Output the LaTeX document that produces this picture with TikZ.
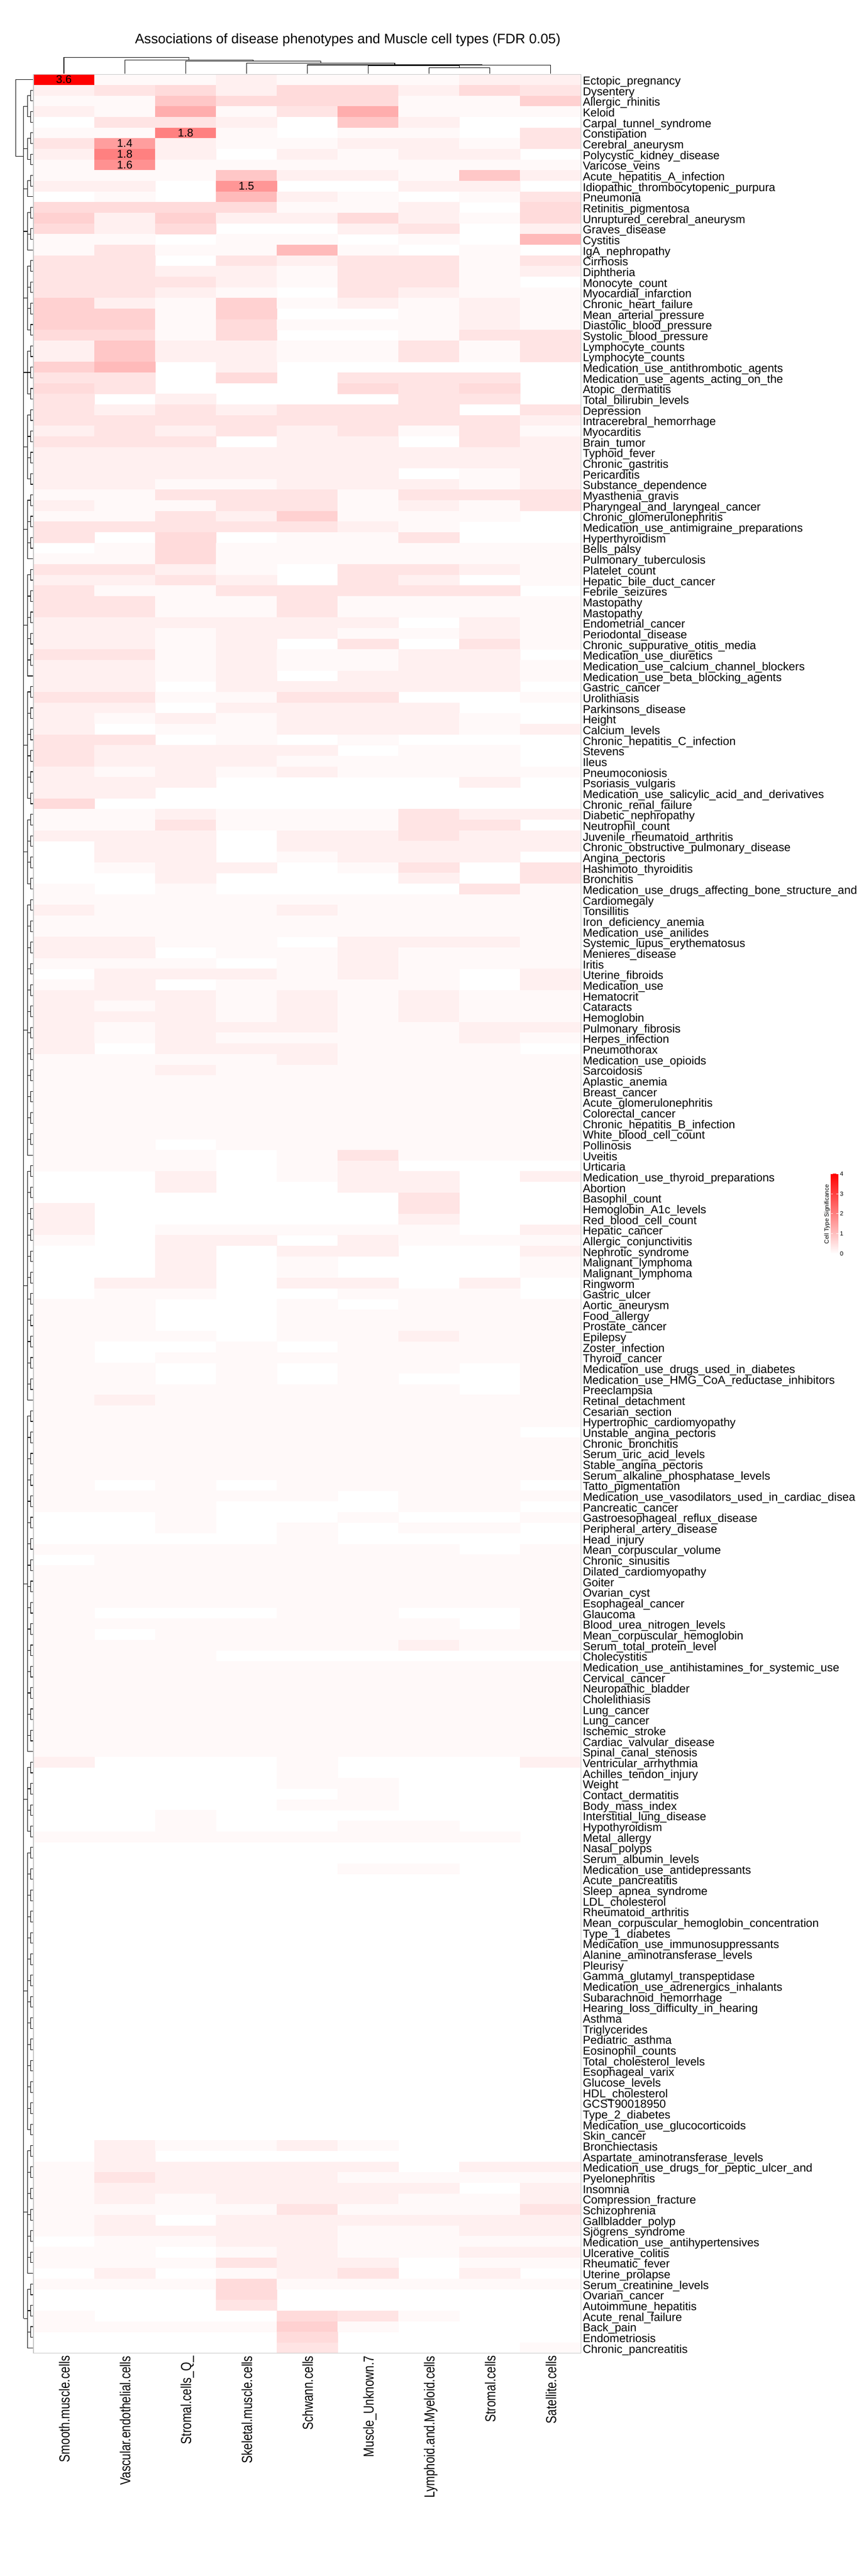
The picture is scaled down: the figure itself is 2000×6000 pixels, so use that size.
\documentclass[tikz,border=0pt]{standalone}
\usepackage{fontspec}
\setmainfont{Liberation Sans}
\usepackage{graphicx}
\newcommand{\pctof}[1]{\ifcase#1 0\or 2.5\or 6\or 10.5\or 14\or 18\or 22\or 27\or 32\or 37\or 100\or 50\or 43\or 41\or 38\fi}
\begin{document}
\begin{tikzpicture}[x=1pt,y=-1pt,
  dend/.style={black,line width=1.4pt},
  rowlab/.style={anchor=base west,inner sep=0pt,font=\fontsize{26.8}{30}\selectfont},
  collab/.style={rotate=90,anchor=base east,inner sep=0pt,font=\fontsize{27}{30}\selectfont},
  celllab/.style={inner sep=0pt,font=\fontsize{26}{28}\selectfont},
  ticklab/.style={anchor=west,inner sep=0pt,font=\fontsize{14}{16}\selectfont}]
\fill[white] (0,0) rectangle (2000,6000);
\useasboundingbox (0,0) rectangle (2000,6000);

% title
\node[anchor=base,inner sep=0pt,font=\fontsize{32}{36}\selectfont] (title) at (810,102)
  {Associations of disease phenotypes and Muscle cell types (FDR 0.05)};

% heatmap cells
\foreach \v [count=\r from 0] in {
{10,1,1,2,1,1,1,2,2},{2,3,4,2,4,4,2,4,3},{1,1,6,4,4,4,1,1,5},{2,1,8,1,3,8,1,1,1},
{0,3,3,2,0,6,2,0,0},{1,1,11,1,0,1,1,0,3},{3,14,2,1,1,2,2,1,3},{2,11,2,0,2,1,2,2,0},
{1,12,1,1,1,1,1,1,1},{1,1,1,6,2,2,1,6,2},{2,2,0,13,0,0,2,2,0},{0,1,0,7,2,1,0,1,3},
{4,4,4,4,1,1,2,0,4},{5,2,5,2,2,4,2,1,4},{4,2,4,0,0,2,3,0,2},{1,1,0,1,1,0,1,0,7},
{1,3,1,1,7,1,0,1,0},{3,3,0,3,2,3,3,1,3},{3,3,2,2,1,3,3,1,2},{3,3,3,2,1,3,3,1,0},
{3,3,2,1,0,3,2,1,1},{5,2,1,5,1,2,1,2,1},{5,5,1,5,0,0,1,2,1},{5,5,1,4,1,1,1,2,1},
{4,4,1,4,0,0,1,3,3},{2,6,2,2,1,1,3,1,3},{2,6,2,2,1,1,3,1,3},{5,7,0,2,0,0,0,0,0},
{3,3,0,4,0,3,3,3,0},{4,3,0,0,0,4,3,4,0},{3,0,2,0,0,0,3,3,0},{3,2,3,2,3,3,3,0,3},
{3,3,3,3,3,3,3,3,2},{2,3,2,3,2,3,1,3,1},{3,3,3,0,2,2,0,3,2},{2,2,2,2,2,2,2,2,2},
{2,2,2,2,2,2,2,2,2},{2,2,2,2,2,2,0,1,2},{2,2,1,1,2,2,2,1,2},{1,1,3,3,3,1,3,3,3},
{2,1,1,3,3,1,2,1,3},{1,1,3,2,5,1,1,1,0},{3,3,3,3,3,2,1,0,0},{3,0,4,0,1,1,3,0,0},
{0,1,4,1,1,1,1,1,1},{1,1,4,1,1,1,1,1,1},{3,3,2,1,0,3,3,2,1},{2,2,3,2,0,3,2,0,1},
{3,1,1,3,3,3,3,3,0},{3,3,1,1,3,1,1,1,1},{3,3,1,1,3,1,1,1,1},{2,2,2,2,2,2,0,2,1},
{2,2,1,2,2,1,1,2,1},{2,2,1,2,0,3,0,3,1},{3,3,1,2,1,1,2,2,0},{2,2,1,2,1,1,2,2,1},
{2,2,1,2,0,2,2,2,1},{2,2,0,2,2,2,2,2,0},{3,3,1,1,3,3,0,0,1},{2,2,0,2,2,2,2,0,0},
{2,1,2,1,2,2,2,1,0},{2,0,1,1,2,2,2,1,2},{3,3,0,1,0,1,0,0,0},{3,2,2,2,2,0,1,1,0},
{3,2,2,2,1,1,1,1,0},{2,1,2,1,2,1,1,1,1},{2,2,2,0,0,0,0,2,0},{2,2,0,0,0,0,0,0,0},
{4,0,0,0,0,0,0,0,0},{1,1,2,1,1,1,3,2,2},{1,1,3,1,1,1,3,3,0},{2,2,2,0,2,2,3,2,2},
{0,2,2,0,2,2,2,2,2},{0,2,2,0,1,2,2,2,0},{0,1,2,2,0,1,3,0,3},{0,0,2,0,0,0,2,0,3},
{1,0,1,0,0,0,0,3,1},{1,1,1,1,1,1,1,1,1},{2,1,1,1,2,1,1,1,1},{1,1,1,1,1,1,1,1,1},
{1,1,1,1,1,1,1,1,1},{2,2,1,1,0,2,2,2,1},{2,2,0,1,1,2,1,1,1},{1,1,1,0,1,2,1,1,1},
{0,2,2,2,1,2,1,0,2},{1,2,0,1,1,1,1,0,2},{2,2,2,1,2,1,2,1,1},{2,1,2,1,2,1,2,1,1},
{2,2,2,1,2,1,2,1,1},{2,1,2,2,2,1,1,2,2},{2,1,2,1,1,1,1,2,1},{2,0,2,2,2,1,1,1,0},
{1,1,1,1,2,1,1,1,1},{1,1,2,1,1,1,1,1,1},{1,1,1,1,1,1,1,1,1},{1,1,1,1,1,1,1,1,1},
{1,1,1,1,1,1,1,1,1},{1,1,1,1,1,1,1,1,1},{1,1,1,1,1,1,1,1,1},{1,1,1,1,1,1,1,1,1},
{1,1,0,1,1,1,1,1,1},{1,1,1,0,1,3,1,1,1},{1,1,1,0,1,2,0,0,0},{0,0,2,0,1,2,2,0,2},
{0,0,2,0,0,2,2,0,0},{0,0,0,0,0,0,3,0,0},{2,0,0,0,0,0,3,0,0},{2,0,0,0,0,0,2,0,0},
{2,0,1,1,1,1,1,0,2},{1,0,2,2,0,2,1,1,1},{0,0,2,0,2,2,0,0,2},{0,0,2,0,1,0,0,0,1},
{0,0,2,0,1,0,0,0,1},{0,2,2,0,2,2,0,2,0},{0,1,1,0,0,1,1,1,0},{1,1,0,0,1,0,1,1,1},
{1,1,0,0,1,1,1,1,1},{1,1,0,0,1,1,1,1,1},{1,1,1,0,1,1,2,1,1},{1,0,0,1,0,1,1,1,1},
{1,0,1,1,1,1,1,1,1},{1,1,0,1,0,1,1,0,1},{1,1,0,1,0,1,0,0,1},{1,1,1,1,1,1,1,0,1},
{1,2,1,1,1,1,1,1,1},{1,1,1,1,1,1,1,1,1},{1,1,1,1,1,1,1,1,1},{1,1,1,1,1,1,1,1,0},
{1,1,1,1,1,1,1,1,1},{1,1,1,1,1,1,1,1,1},{1,1,1,1,1,1,1,1,1},{1,1,1,1,1,1,1,1,1},
{1,0,1,0,1,1,1,1,0},{1,1,1,1,1,0,1,1,1},{1,1,1,0,0,0,1,1,0},{0,0,1,0,0,1,0,0,1},
{0,0,1,0,1,0,1,1,0},{0,0,0,0,1,0,0,0,0},{1,1,1,1,1,1,1,0,1},{0,1,1,1,1,1,1,1,1},
{1,1,1,1,1,1,1,1,1},{1,1,1,1,1,1,1,1,1},{1,1,1,1,1,1,1,1,1},{1,1,1,1,1,1,1,1,1},
{1,0,0,0,1,1,0,0,1},{1,1,1,1,1,1,1,0,1},{1,0,1,1,1,1,1,1,1},{1,1,1,1,1,1,2,1,1},
{1,1,1,0,0,0,0,0,0},{1,1,1,1,1,1,1,1,1},{1,1,1,1,1,1,1,1,1},{1,1,1,1,1,1,1,1,1},
{1,1,1,1,1,1,1,1,1},{1,1,1,1,1,1,1,1,1},{1,1,1,1,1,1,1,1,1},{1,1,1,1,1,1,1,1,1},
{1,1,1,1,1,1,1,1,1},{1,1,1,1,1,1,1,1,1},{2,0,0,0,1,0,0,0,2},{0,0,0,0,1,0,0,0,0},
{0,0,0,0,1,1,0,0,0},{0,0,0,0,0,1,0,0,0},{0,0,0,0,1,1,0,0,0},{0,0,1,0,0,0,0,0,0},
{0,0,1,0,0,1,1,0,0},{1,1,1,1,1,1,1,1,0},{0,0,0,0,0,0,0,0,0},{0,0,0,0,0,0,0,0,0},
{0,0,0,0,0,1,1,0,0},{0,0,0,0,0,0,0,0,0},{0,0,0,0,0,0,0,0,0},{0,0,0,0,0,0,0,0,0},
{0,0,0,0,0,0,0,0,0},{0,0,0,0,0,0,0,0,0},{0,0,0,0,0,0,0,0,0},{0,0,0,0,0,0,0,0,0},
{0,0,0,0,0,0,0,0,0},{0,0,0,0,0,0,0,0,0},{0,0,0,0,0,0,0,0,0},{0,0,0,0,0,0,0,0,0},
{0,0,0,0,0,0,0,0,0},{0,0,0,0,0,0,0,0,0},{0,0,0,0,0,0,0,0,0},{0,0,0,0,0,0,0,0,0},
{0,0,0,0,0,0,0,0,0},{0,0,0,0,0,0,0,0,0},{0,0,0,0,0,0,0,0,0},{0,0,0,0,0,0,0,0,0},
{0,0,0,0,0,0,0,0,0},{0,0,0,0,0,0,0,0,0},{0,0,0,0,0,0,0,0,0},{0,0,0,0,0,0,0,0,0},
{0,0,0,0,0,0,0,0,0},{0,0,0,0,0,0,0,0,0},{0,2,1,1,2,1,0,0,0},{0,2,0,0,0,0,0,0,0},
{1,2,2,2,2,2,0,2,2},{1,3,2,2,2,1,1,1,1},{1,2,2,2,2,2,2,0,2},{1,2,1,2,2,2,1,1,2},
{1,1,1,1,3,1,1,1,3},{1,2,0,2,2,2,2,2,2},{1,2,2,2,2,1,1,2,2},{0,1,1,2,2,1,1,1,1},
{1,1,0,1,2,1,1,2,2},{1,1,1,3,2,2,0,1,1},{0,2,0,1,2,3,0,2,0},{1,1,1,4,1,1,1,1,1},
{0,0,0,4,0,0,0,0,0},{0,0,0,3,0,0,0,0,0},{1,0,0,0,4,3,1,0,0},{1,1,1,1,5,1,0,0,0},
{0,0,0,0,4,0,0,0,0},{0,0,0,0,3,0,0,0,1}}{
  \foreach \c [count=\ci from 0] in \v {
    \ifnum\c>0
      \edef\pct{\pctof{\c}}
      \fill[red!\pct!white] ({78+141.667*\ci},{173+24.804*\r}) rectangle ++(142.2,25.2);
    \fi
  }
}
\draw[gray!45,line width=1.5pt] (78,173) rectangle (1353,5481);

% significant values
\node[celllab] (v1) at ({78+141.667*0.5},{173+24.804*0.5}) {3.6};
\node[celllab] (v2) at ({78+141.667*2.5},{173+24.804*5.5}) {1.8};
\node[celllab] (v3) at ({78+141.667*1.5},{173+24.804*6.5}) {1.4};
\node[celllab] (v4) at ({78+141.667*1.5},{173+24.804*7.5}) {1.8};
\node[celllab] (v5) at ({78+141.667*1.5},{173+24.804*8.5}) {1.6};
\node[celllab] (v6) at ({78+141.667*3.5},{173+24.804*10.5}) {1.5};

% row labels
\foreach \lab [count=\r from 0] in {
Ectopic\_pregnancy,Dysentery,Allergic\_rhinitis,Keloid,Carpal\_tunnel\_syndrome,Constipation,
Cerebral\_aneurysm,Polycystic\_kidney\_disease,Varicose\_veins,Acute\_hepatitis\_A\_infection,
Idiopathic\_thrombocytopenic\_purpura,Pneumonia,Retinitis\_pigmentosa,Unruptured\_cerebral\_aneurysm,
Graves\_disease,Cystitis,IgA\_nephropathy,Cirrhosis,Diphtheria,Monocyte\_count,Myocardial\_infarction,
Chronic\_heart\_failure,Mean\_arterial\_pressure,Diastolic\_blood\_pressure,Systolic\_blood\_pressure,
Lymphocyte\_counts,Lymphocyte\_counts,Medication\_use\_antithrombotic\_agents,
Medication\_use\_agents\_acting\_on\_the,Atopic\_dermatitis,Total\_bilirubin\_levels,Depression,
Intracerebral\_hemorrhage,Myocarditis,Brain\_tumor,Typhoid\_fever,Chronic\_gastritis,Pericarditis,
Substance\_dependence,Myasthenia\_gravis,Pharyngeal\_and\_laryngeal\_cancer,Chronic\_glomerulonephritis,
Medication\_use\_antimigraine\_preparations,Hyperthyroidism,Bells\_palsy,Pulmonary\_tuberculosis,
Platelet\_count,Hepatic\_bile\_duct\_cancer,Febrile\_seizures,Mastopathy,Mastopathy,Endometrial\_cancer,
Periodontal\_disease,Chronic\_suppurative\_otitis\_media,Medication\_use\_diuretics,
Medication\_use\_calcium\_channel\_blockers,Medication\_use\_beta\_blocking\_agents,Gastric\_cancer,
Urolithiasis,Parkinsons\_disease,Height,Calcium\_levels,Chronic\_hepatitis\_C\_infection,Stevens,Ileus,
Pneumoconiosis,Psoriasis\_vulgaris,Medication\_use\_salicylic\_acid\_and\_derivatives,Chronic\_renal\_failure,
Diabetic\_nephropathy,Neutrophil\_count,Juvenile\_rheumatoid\_arthritis,Chronic\_obstructive\_pulmonary\_disease,
Angina\_pectoris,Hashimoto\_thyroiditis,Bronchitis,Medication\_use\_drugs\_affecting\_bone\_structure\_and,
Cardiomegaly,Tonsillitis,Iron\_deficiency\_anemia,Medication\_use\_anilides,Systemic\_lupus\_erythematosus,
Menieres\_disease,Iritis,Uterine\_fibroids,Medication\_use,Hematocrit,Cataracts,Hemoglobin,
Pulmonary\_fibrosis,Herpes\_infection,Pneumothorax,Medication\_use\_opioids,Sarcoidosis,Aplastic\_anemia,
Breast\_cancer,Acute\_glomerulonephritis,Colorectal\_cancer,Chronic\_hepatitis\_B\_infection,
White\_blood\_cell\_count,Pollinosis,Uveitis,Urticaria,Medication\_use\_thyroid\_preparations,Abortion,
Basophil\_count,Hemoglobin\_A1c\_levels,Red\_blood\_cell\_count,Hepatic\_cancer,Allergic\_conjunctivitis,
Nephrotic\_syndrome,Malignant\_lymphoma,Malignant\_lymphoma,Ringworm,Gastric\_ulcer,Aortic\_aneurysm,
Food\_allergy,Prostate\_cancer,Epilepsy,Zoster\_infection,Thyroid\_cancer,
Medication\_use\_drugs\_used\_in\_diabetes,Medication\_use\_HMG\_CoA\_reductase\_inhibitors,Preeclampsia,
Retinal\_detachment,Cesarian\_section,Hypertrophic\_cardiomyopathy,Unstable\_angina\_pectoris,
Chronic\_bronchitis,Serum\_uric\_acid\_levels,Stable\_angina\_pectoris,Serum\_alkaline\_phosphatase\_levels,
Tatto\_pigmentation,Medication\_use\_vasodilators\_used\_in\_cardiac\_disea,Pancreatic\_cancer,
Gastroesophageal\_reflux\_disease,Peripheral\_artery\_disease,Head\_injury,Mean\_corpuscular\_volume,
Chronic\_sinusitis,Dilated\_cardiomyopathy,Goiter,Ovarian\_cyst,Esophageal\_cancer,Glaucoma,
Blood\_urea\_nitrogen\_levels,Mean\_corpuscular\_hemoglobin,Serum\_total\_protein\_level,Cholecystitis,
Medication\_use\_antihistamines\_for\_systemic\_use,Cervical\_cancer,Neuropathic\_bladder,Cholelithiasis,
Lung\_cancer,Lung\_cancer,Ischemic\_stroke,Cardiac\_valvular\_disease,Spinal\_canal\_stenosis,
Ventricular\_arrhythmia,Achilles\_tendon\_injury,Weight,Contact\_dermatitis,Body\_mass\_index,
Interstitial\_lung\_disease,Hypothyroidism,Metal\_allergy,Nasal\_polyps,Serum\_albumin\_levels,
Medication\_use\_antidepressants,Acute\_pancreatitis,Sleep\_apnea\_syndrome,LDL\_cholesterol,
Rheumatoid\_arthritis,Mean\_corpuscular\_hemoglobin\_concentration,Type\_1\_diabetes,
Medication\_use\_immunosuppressants,Alanine\_aminotransferase\_levels,Pleurisy,
Gamma\_glutamyl\_transpeptidase,Medication\_use\_adrenergics\_inhalants,Subarachnoid\_hemorrhage,
Hearing\_loss\_difficulty\_in\_hearing,Asthma,Triglycerides,Pediatric\_asthma,Eosinophil\_counts,
Total\_cholesterol\_levels,Esophageal\_varix,Glucose\_levels,HDL\_cholesterol,GCST90018950,
Type\_2\_diabetes,Medication\_use\_glucocorticoids,Skin\_cancer,Bronchiectasis,
Aspartate\_aminotransferase\_levels,Medication\_use\_drugs\_for\_peptic\_ulcer\_and,Pyelonephritis,
Insomnia,Compression\_fracture,Schizophrenia,Gallbladder\_polyp,Sjögrens\_syndrome,
Medication\_use\_antihypertensives,Ulcerative\_colitis,Rheumatic\_fever,Uterine\_prolapse,
Serum\_creatinine\_levels,Ovarian\_cancer,Autoimmune\_hepatitis,Acute\_renal\_failure,Back\_pain,
Endometriosis,Chronic\_pancreatitis}{
  \node[rowlab] (row\r) at (1357,{173+24.804*(\r+0.5)+12}) {\lab};
}

% column labels
\foreach \name [count=\i from 0] in {Smooth.muscle.cells,Vascular.endothelial.cells,Stromal.cells\_Q\_,
  Skeletal.muscle.cells,Schwann.cells,Muscle\_Unknown.7,Lymphoid.and.Myeloid.cells,Stromal.cells,Satellite.cells}{
  \node[collab] (col\i) at ({78+141.667*(\i+0.5)+13},5487) {\scalebox{1}[1.25]{\name}};
}

% column dendrogram
\draw[dend] (998.8,172) -- (998.8,157.7) -- (1140.5,157.7) -- (1140.5,172);
\draw[dend] (857.2,172) -- (857.2,153.4) -- (1069.7,153.4) -- (1069.7,157.7);
\draw[dend] (963.4,153.4) -- (963.4,152.2) -- (1282.2,152.2) -- (1282.2,172);
\draw[dend] (715.5,172) -- (715.5,151.2) -- (1122.8,151.2) -- (1122.8,152.2);
\draw[dend] (573.8,172) -- (573.8,147.3) -- (919.1,147.3) -- (919.1,151.2);
\draw[dend] (432.2,172) -- (432.2,142.5) -- (746.5,142.5) -- (746.5,147.3);
\draw[dend] (290.5,172) -- (290.5,139.5) -- (589.3,139.5) -- (589.3,142.5);
\draw[dend] (148.8,172) -- (148.8,133.4) -- (439.9,133.4) -- (439.9,139.5);

% row dendrogram (approximate)
\foreach \a/\b in {1/4,5/8,9/11,12/16,17/24,25/30,31/38,39/45,46/56,57/68,69/76,77/101,
  102/124,125/157,158/165,166/193,194/206,207/213}{
  \pgfmathtruncatemacro\np{(\b-\a+1)/2}
  \pgfmathtruncatemacro\myodd{mod(\b-\a+1,2)}
  \foreach \k in {1,...,\np}{
    \pgfmathtruncatemacro\ra{\a+2*(\k-1)}
    \pgfmathsetmacro\ya{173+24.804*(\ra+0.5)}
    \pgfmathsetmacro\yb{\ya+24.804}
    \pgfmathsetmacro\ym{\ya+12.402}
    \draw[dend] (77,\ya) -- (71,\ya) -- (71,\yb) -- (77,\yb);
    \draw[dend] (71,\ym) -- (64,\ym);
  }
  \ifnum\myodd=1
    \pgfmathsetmacro\yl{173+24.804*(\b+0.5)}
    \draw[dend] (77,\yl) -- (64,\yl);
  \else
    \pgfmathsetmacro\yl{173+24.804*(\b-0.5)+12.402}
  \fi
  \pgfmathsetmacro\yf{173+24.804*(\a+0.5)+12.402}
  \pgfmathsetmacro\yg{(\yf+\yl)/2}
  \draw[dend] (64,\yf) -- (64,\yl);
  \draw[dend] (64,\yg) -- (55,\yg);
}
\draw[dend] (55,247.4) -- (55,5400.3);
\draw[dend] (77,185.4) -- (37,185.4) -- (37,364) -- (55,364);

% legend
\shade[bottom color=white,top color=red] (1935,2734) rectangle (1952,2920);
\foreach \k in {1,...,4}{
  \draw[white,line width=1.2pt] (1935,{2920-46.5*\k}) -- ++(4,0) (1948,{2920-46.5*\k}) -- ++(4,0);
}
\foreach \k in {0,...,4}{
  \node[ticklab] (tick\k) at (1956,{2920-46.5*\k}) {\k};
}
\node[rotate=90,inner sep=0pt,font=\fontsize{14}{16}\selectfont] (legtitle) at (1926,2828) {Cell Type Significance};
\end{tikzpicture}
\end{document}
